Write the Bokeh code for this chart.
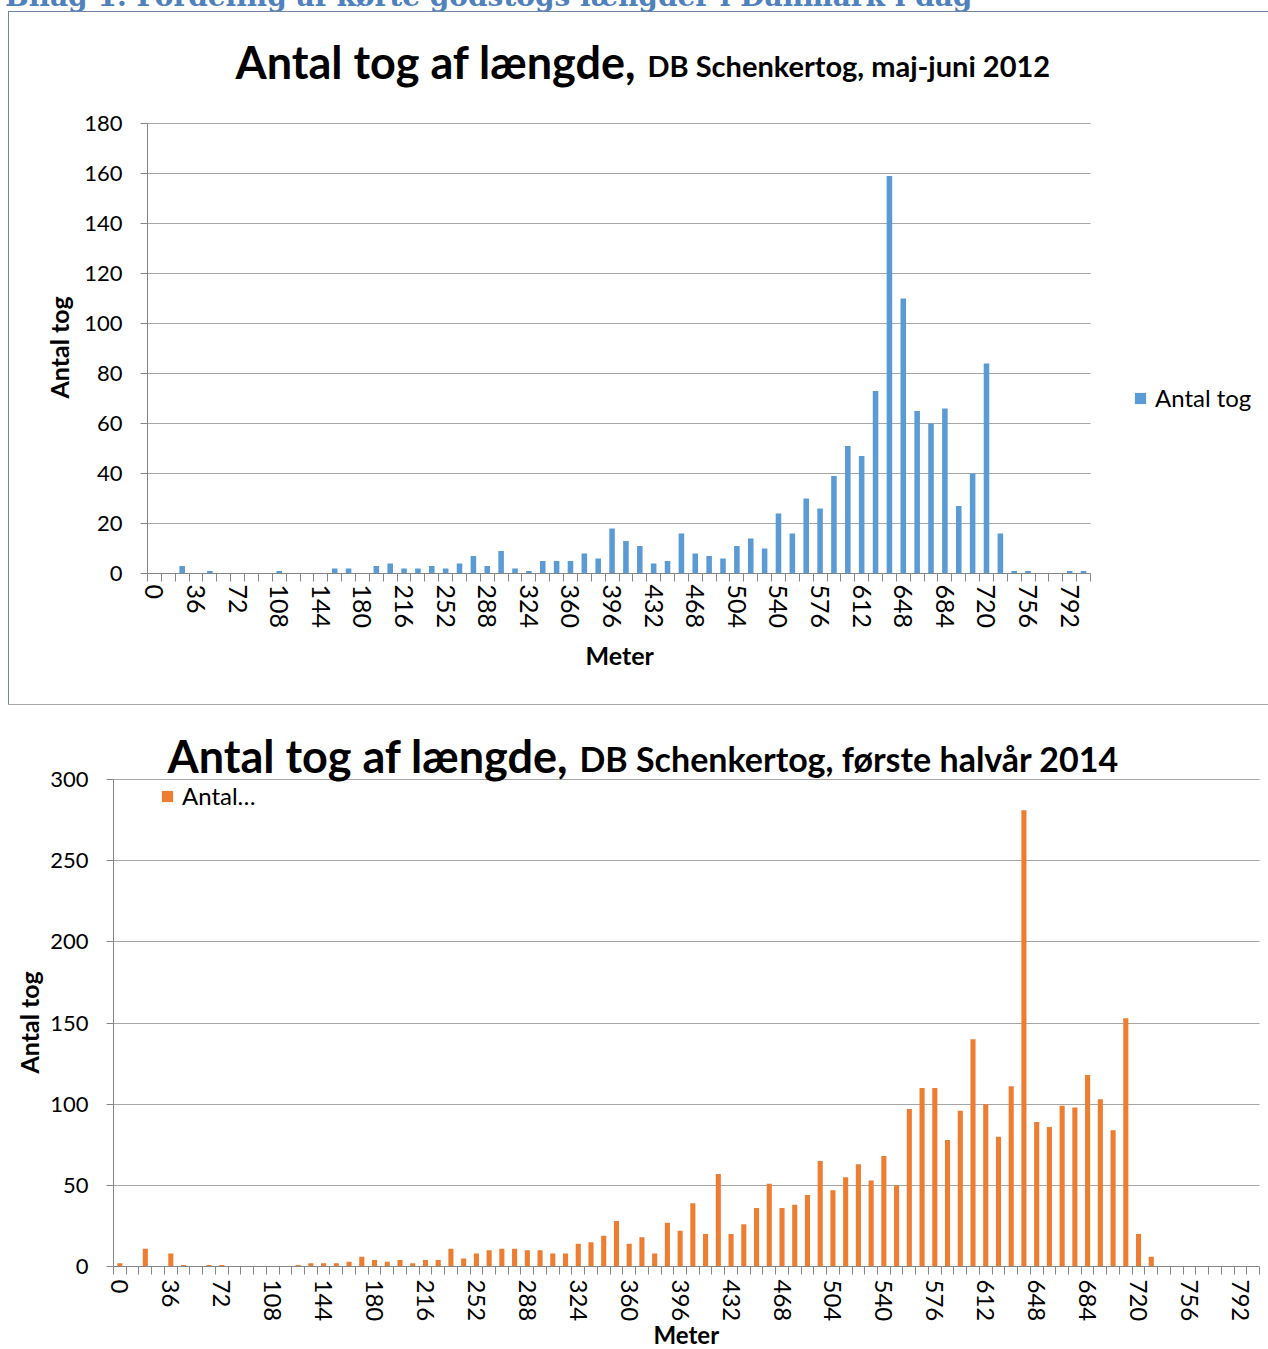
import math
from bokeh.plotting import figure
from bokeh.models import Range1d, FixedTicker, Label, Legend, LegendItem, Div, Spacer, Title
from bokeh.layouts import column, row
from bokeh.embed import file_html
from bokeh.resources import INLINE

# ---------------- data ----------------
TOP_METERS = list(range(0, 805, 12))          # 68 categories, 12 m bins
TOP_COUNTS = [0, 0, 3, 0, 1, 0, 0, 0, 0, 1,
              0, 0, 0, 2, 2, 0, 3, 4, 2, 2,
              3, 2, 4, 7, 3, 9, 2, 1, 5, 5,
              5, 8, 6, 18, 13, 11, 4, 5, 16, 8,
              7, 6, 11, 14, 10, 24, 16, 30, 26, 39,
              51, 47, 73, 159, 110, 65, 60, 66, 27, 40,
              84, 16, 1, 1, 0, 0, 1, 1]

BOTTOM_METERS = list(range(0, 802, 9))        # 90 categories, 9 m bins
BOTTOM_COUNTS = [2, 0, 11, 0, 8, 1, 0, 1, 1, 0,
                 0, 0, 0, 0, 1, 2, 2, 2, 3, 6,
                 4, 3, 4, 2, 4, 4, 11, 5, 8, 10,
                 11, 11, 10, 10, 8, 8, 14, 15, 19, 28,
                 14, 18, 8, 27, 22, 39, 20, 57, 20, 26,
                 36, 51, 36, 38, 44, 65, 47, 55, 63, 53,
                 68, 50, 97, 110, 110, 78, 96, 140, 100, 80,
                 111, 281, 89, 86, 99, 98, 118, 103, 84, 153,
                 20, 6, 0, 0, 0, 0, 0, 0, 0, 0]

TICK_LABELS = list(range(0, 793, 36))
Y_TOP_TICKS = list(range(0, 181, 20))
Y_BOTTOM_TICKS = list(range(0, 301, 50))

HEADING = "Bilag 1. Fordeling af kørte godstogs længder i Danmark i dag"
TITLE_MAIN = "Antal tog af længde,"
TITLE_TOP_SUB = "DB Schenkertog, maj-juni 2012"
TITLE_BOTTOM_SUB = "DB Schenkertog, første halvår 2014"
Y_TITLE = "Antal tog"
X_TITLE = "Meter"
LEGEND_TOP = "Antal tog"
LEGEND_BOTTOM = "Antal…"

FONT = "Lato"
AXIS_GREY = "#868686"
GRID_GREY = "#a6a6a6"
BLUE = "#5B9BD5"
ORANGE = "#ED7D31"


def style(p, step, n, yticks, xlabel_size, x_standoff):
    xb = (-step / 2, -step / 2 + step * n)
    yb = (yticks[0], yticks[-1])
    p.xaxis.bounds = xb
    p.xaxis.ticker = FixedTicker(ticks=TICK_LABELS,
                                 minor_ticks=[-step / 2 + step * k for k in range(n + 1)])
    p.xaxis.axis_line_color = AXIS_GREY
    p.xaxis.major_tick_line_color = None
    p.xaxis.major_tick_out = 0
    p.xaxis.major_tick_in = 0
    p.xaxis.minor_tick_line_color = AXIS_GREY
    p.xaxis.minor_tick_out = 8
    p.xaxis.minor_tick_in = 0
    p.xaxis.major_label_orientation = "vertical"
    p.xaxis.major_label_text_font = FONT
    p.xaxis.major_label_text_font_size = xlabel_size
    p.xaxis.major_label_text_color = "#000000"
    p.xaxis.major_label_standoff = x_standoff
    p.xaxis.axis_label = None

    p.yaxis.bounds = yb
    p.yaxis.ticker = FixedTicker(ticks=yticks, minor_ticks=[])
    p.yaxis.axis_line_color = AXIS_GREY
    p.yaxis.major_tick_line_color = AXIS_GREY
    p.yaxis.major_tick_out = 7
    p.yaxis.major_tick_in = 0
    p.yaxis.minor_tick_line_color = None
    p.yaxis.major_label_text_font = FONT
    p.yaxis.major_label_text_font_size = "22px"
    p.yaxis.major_label_text_color = "#000000"
    p.yaxis.major_label_standoff = 18
    p.yaxis.axis_label = None

    p.xgrid.visible = False
    grid = p.ygrid[0]
    grid.ticker = FixedTicker(ticks=yticks, minor_ticks=[])
    grid.bounds = yb
    grid.grid_line_color = GRID_GREY
    grid.grid_line_width = 1
    if "cross_bounds" in grid.properties():
        grid.cross_bounds = xb
    else:
        grid.visible = False
        p.segment(x0=[xb[0]] * (len(yticks) - 1), x1=[xb[1]] * (len(yticks) - 1),
                  y0=yticks[1:], y1=yticks[1:], line_color=GRID_GREY, line_width=1)
    p.outline_line_color = None
    p.background_fill_color = "white"
    p.border_fill_color = "white"


def add_axis_titles(p, x_offset, x_standoff, x_size, x_valign, y_offset, y_standoff):
    p.add_layout(Title(text=X_TITLE, align="left", offset=x_offset, standoff=x_standoff,
                       vertical_align=x_valign,
                       text_font=FONT, text_font_style="bold", text_font_size=x_size,
                       text_color="#000000"), "below")
    p.add_layout(Title(text=Y_TITLE, align="left", offset=y_offset, standoff=y_standoff,
                       text_font=FONT, text_font_style="bold", text_font_size="25px",
                       text_color="#000000"), "left")


def add_titles(p, x_main, x_sub, y_main, y_sub, sub_text, sub_size):
    p.add_layout(Label(x=x_main, y=y_main, x_units="screen", y_units="screen",
                       text=TITLE_MAIN, text_font=FONT, text_font_style="bold",
                       text_font_size="45px", text_color="#000000",
                       text_baseline="alphabetic", text_align="left"))
    p.add_layout(Label(x=x_sub, y=y_sub, x_units="screen", y_units="screen",
                       text=sub_text, text_font=FONT, text_font_style="bold",
                       text_font_size=sub_size, text_color="#000000",
                       text_baseline="alphabetic", text_align="left"))


def add_legend(p, r, label, loc):
    leg = Legend(items=[LegendItem(label=label, renderers=[r])], location=loc,
                 border_line_color=None, background_fill_alpha=0, padding=0, margin=0,
                 glyph_width=14, glyph_height=14, label_standoff=8, spacing=0,
                 label_text_font=FONT, label_text_font_size="24px",
                 label_text_color="#000000")
    p.add_layout(leg)


# ---------------- top chart ----------------
# frame: page x 147 .. 1268 (axis to 1090), page y 12 .. 573 (axis from 123)
TOP_PX_PER_M = 943 / 816
TOP_PX_PER_UNIT = 450 / 180
p1 = figure(width=1259, height=692, title=None,
            x_range=Range1d(-6, -6 + 1121 / TOP_PX_PER_M),
            y_range=Range1d(0, 561 / TOP_PX_PER_UNIT),
            output_backend="svg", toolbar_location=None,
            min_border_left=138, min_border_right=0,
            min_border_top=0, min_border_bottom=131)
r1 = p1.vbar(x=TOP_METERS, top=TOP_COUNTS, width=12 * 0.4, fill_color=BLUE, line_color=None)
style(p1, 12, len(TOP_METERS), Y_TOP_TICKS, "25px", 3)
add_axis_titles(p1, 585 - 147, 12, "25px", "bottom", 175, 15)
add_titles(p1, 88, 647 - 147, 512, 508, TITLE_TOP_SUB, "29px")
add_legend(p1, r1, LEGEND_TOP, (986, 161))

# ---------------- bottom chart ----------------
# frame: page x 113 .. 1268 (axis to 1259), page y 705 .. 1266 (axis from 779)
BOT_PX_PER_M = 1146 / 810
BOT_PX_PER_UNIT = 487 / 300
p2 = figure(width=1268, height=644, title=None,
            x_range=Range1d(-4.5, -4.5 + 1155 / BOT_PX_PER_M),
            y_range=Range1d(0, 561 / BOT_PX_PER_UNIT),
            output_backend="svg", toolbar_location=None,
            min_border_left=113, min_border_right=0,
            min_border_top=0, min_border_bottom=83)
r2 = p2.vbar(x=BOTTOM_METERS, top=BOTTOM_COUNTS, width=9 * 0.4, fill_color=ORANGE, line_color=None)
style(p2, 9, len(BOTTOM_METERS), Y_BOTTOM_TICKS, "24px", 5)
add_axis_titles(p2, 653 - 113, -10, "24px", "top", 193, 7)
add_titles(p2, 54, 579 - 113, 511, 508, TITLE_BOTTOM_SUB, "34px")
add_legend(p2, r2, LEGEND_BOTTOM, (47, 456))

# ---------------- page furniture ----------------
heading = Div(text=('<div style="position:relative; top:-19px; left:5px; white-space:nowrap; '
                    'font-family:\'DejaVu Serif\'; font-weight:bold; font-size:28px; '
                    'color:#4F81BD; line-height:32px;">' + HEADING + '</div>'),
              width=1268, height=11, margin=0, styles={"overflow": "hidden"})
top_line = Div(text="", width=1260, height=1, margin=0,
               styles={"background-color": "#6f86a6"})
left_line = Div(text="", width=1, height=692, margin=0,
                styles={"background-color": "#6f86a6"})
sep_line = Div(text="", width=1260, height=1, margin=0,
               styles={"background-color": "#a6a6a6"})

top_block = row(Spacer(width=8, height=694),
                column(top_line, row(left_line, p1), sep_line))
layout = column(heading, top_block, p2)

open("out.html", "w", encoding="utf-8").write(file_html(layout, INLINE, title="Antal tog"))
